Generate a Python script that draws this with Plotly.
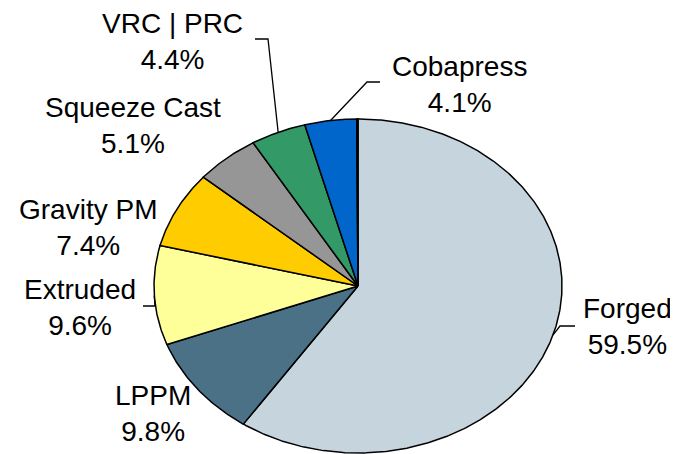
import math
import plotly.graph_objects as go

# ---- data (clockwise from 12 o'clock) ----
labels = ["Forged", "LPPM", "Extruded", "Gravity PM", "Squeeze Cast", "VRC | PRC", "Cobapress", "Other"]
values = [59.5, 9.8, 9.6, 7.4, 5.1, 4.4, 4.1, 0.1]
colors = ["#C6D4DE", "#4A7185", "#FFFF99", "#FFCC00", "#969696", "#339966", "#0066CC", "#000000"]

# ---- layout geometry (pixel space of the 678x454 canvas) ----
W, H = 678, 454
OFF = 8  # page body margin
CX, CY, RX, RY = 358, 286, 204, 167
FONT = dict(family="Liberation Sans, Arial, sans-serif", size=28, color="black")

# label text anchor (center of two-line label), and leader elbow points
label_pos = {
    "Forged": (627, 326),
    "LPPM": (153, 413),
    "Extruded": (80, 307),
    "Gravity PM": (88, 227),
    "Squeeze Cast": (133, 125),
    "VRC | PRC": (172, 41),
    "Cobapress": (459, 84),
}
leaders = {
    "Forged": [(575, 326), (560, 326)],
    "Extruded": [(143, 306), (155, 306)],
    "VRC | PRC": [(255, 39), (268, 39)],
    "Cobapress": [(380, 82), (367, 82)],
}


def pt(theta_deg):
    t = math.radians(theta_deg)
    return CX + RX * math.sin(t), CY - RY * math.cos(t)


fig = go.Figure()
total = sum(values)
cum = 0.0
mids = {}
for lab, val, col in zip(labels, values, colors):
    a0 = cum / total * 360
    a1 = (cum + val) / total * 360
    cum += val
    mids[lab] = (a0 + a1) / 2
    n = max(2, int((a1 - a0) * 2))
    xs, ys = [CX], [CY]
    for i in range(n + 1):
        x, y = pt(a0 + (a1 - a0) * i / n)
        xs.append(x)
        ys.append(y)
    xs.append(CX)
    ys.append(CY)
    fig.add_trace(go.Scatter(
        x=xs, y=ys, mode="lines", fill="toself", fillcolor=col,
        line=dict(color="black", width=1.5), hoverinfo="text",
        text=f"{lab}: {val}%", showlegend=False,
    ))

for lab, val in zip(labels, values):
    if lab not in label_pos:
        continue
    x, y = label_pos[lab]
    fig.add_annotation(
        x=x, y=y, xref="x", yref="y", text=f"{lab}<br>{val:.1f}%",
        showarrow=False, font=FONT, align="center",
    )
    if lab in leaders:
        px, py = pt(mids[lab])
        lx = [p[0] for p in leaders[lab]] + [px]
        ly = [p[1] for p in leaders[lab]] + [py]
        fig.add_trace(go.Scatter(
            x=lx, y=ly, mode="lines", line=dict(color="black", width=1.3),
            hoverinfo="skip", showlegend=False,
        ))

fig.update_xaxes(range=[OFF, W + OFF], visible=False, fixedrange=True)
fig.update_yaxes(range=[H + OFF, OFF], visible=False, fixedrange=True)
fig.update_layout(
    width=W, height=H, margin=dict(l=0, r=0, t=0, b=0),
    plot_bgcolor="white", paper_bgcolor="white", showlegend=False,
)
fig.write_html("out.html")
